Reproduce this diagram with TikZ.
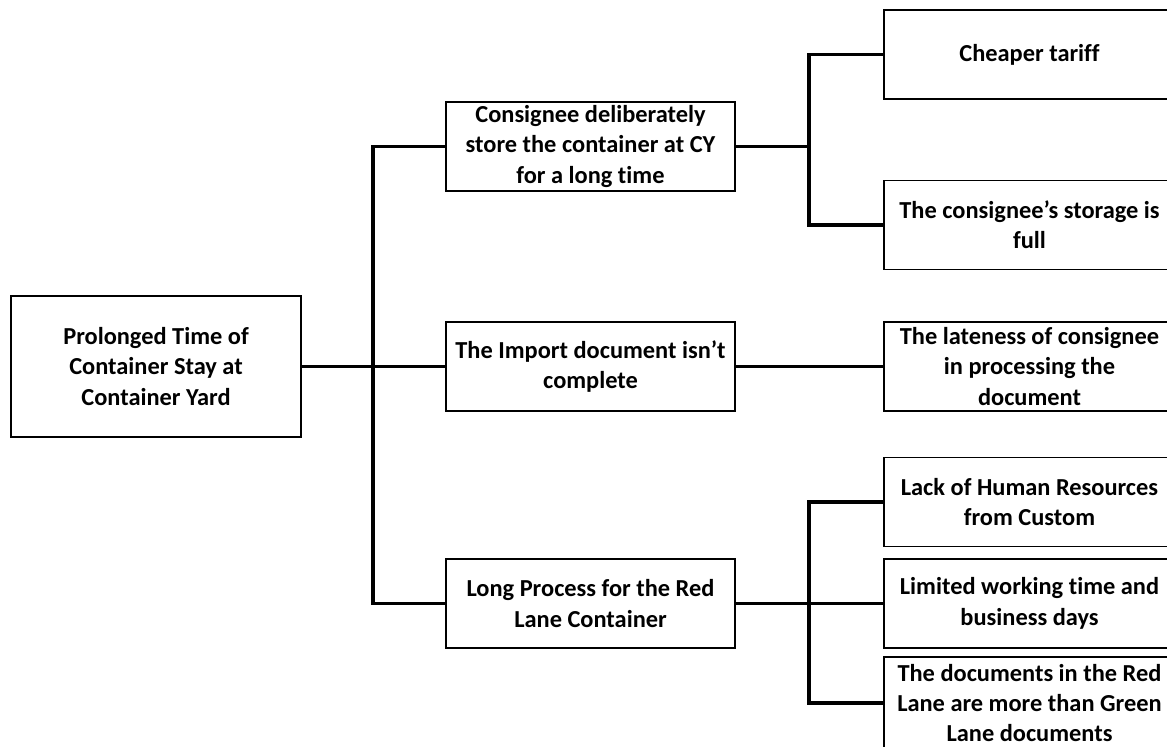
\documentclass[tikz,border=0pt]{standalone}
\usepackage{fontspec}
\setmainfont{Carlito}[Ligatures={NoCommon,NoRequired,NoContextual}]
\begin{document}
\begin{tikzpicture}[x=0.75pt,y=-0.75pt,
  box/.style={draw=black,line width=1.1pt,rectangle,minimum width=289*0.75pt,minimum height=89*0.75pt,
    align=center,inner sep=0pt,font=\fontsize{18.3}{22.8}\selectfont\bfseries},
  conn/.style={line width=2.4pt,line join=miter}]
\useasboundingbox (0,0) rectangle (1167,746);
\clip (0,0) rectangle (1167,746);
\node[box,minimum width=290*0.75pt,minimum height=141*0.75pt] (root) at (156,366.5) {Prolonged Time of\\Container Stay at\\Container Yard};
\node[box] (m1) at (590.5,146.5) {Consignee deliberately\\store the container at CY\\for a long time};
\node[box] (m2) at (590.5,366.5) {The Import document isn’t\\complete};
\node[box] (m3) at (590.5,603.5) {Long Process for the Red\\Lane Container};
\node[box,minimum width=291*0.75pt] (r1) at (1029.5,54.5) {Cheaper tariff};
\node[box,minimum width=291*0.75pt] (r2) at (1029.5,225) {The consignee’s storage is\\full};
\node[box,minimum width=291*0.75pt] (r3) at (1029.5,366.5) {The lateness of consignee\\in processing the\\document};
\node[box,minimum width=291*0.75pt] (r4) at (1029.5,502) {Lack of Human Resources\\from Custom};
\node[box,minimum width=291*0.75pt] (r5) at (1029.5,603.5) {Limited working time and\\business days};
\node[box,minimum width=291*0.75pt,minimum height=92*0.75pt] (r6) at (1029.5,703) {The documents in the Red\\Lane are more than Green\\Lane documents};
\coordinate (tr) at (373,366.5);
\coordinate (b1) at (809,146.5);
\coordinate (b3) at (809,603.5);
\draw[conn] (root.east) -- (m2.west);
\draw[conn] (m1.west) -| (tr) |- (m3.west);
\draw[conn] (m1.east) -- (b1);
\draw[conn] (r1.west) -| (b1) |- (r2.west);
\draw[conn] (m2.east) -- (r3.west);
\draw[conn] (m3.east) -- (r5.west);
\draw[conn] (r4.west) -| (b3) |- (r6.west);
\end{tikzpicture}
\end{document}
